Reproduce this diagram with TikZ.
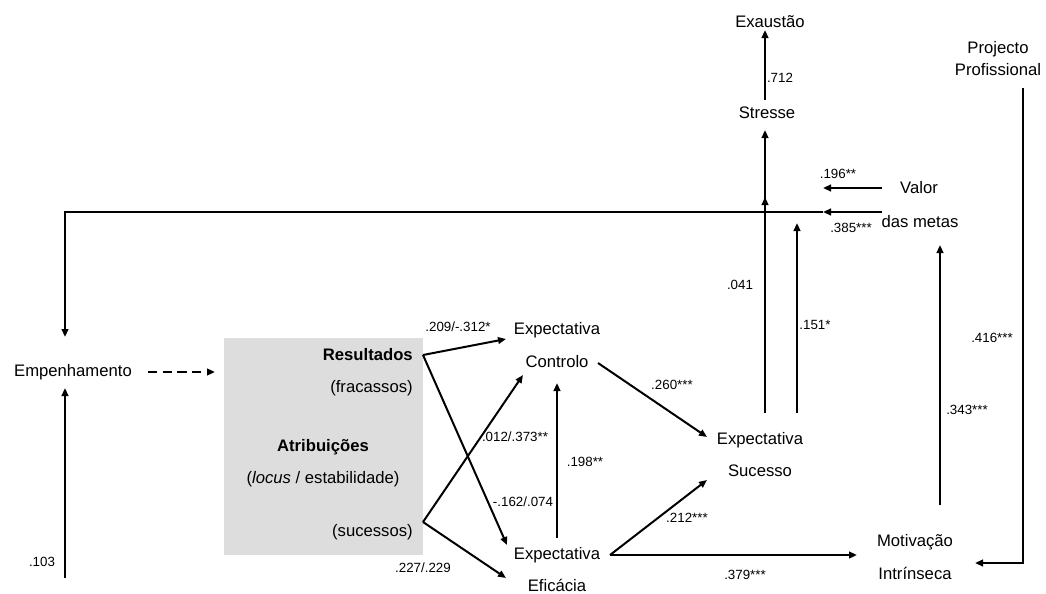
\documentclass[tikz,border=0pt]{standalone}
\usepackage{fontspec}
\setmainfont{Liberation Sans}
\usetikzlibrary{arrows.meta}
\definecolor{boxgray}{RGB}{221,221,221}
\begin{document}
\begin{tikzpicture}[x=0.75pt,y=-0.75pt,
  lbl/.style={font=\fontsize{12.5}{15}\selectfont, inner sep=0pt},
  num/.style={font=\fontsize{10}{12}\selectfont, inner sep=0pt},
  conn/.style={line width=1.5pt, -{Triangle[length=6pt,width=5pt]}},
  plainline/.style={line width=1.5pt},
  dashconn/.style={line width=1.5pt, dash pattern=on 7pt off 4pt, -{Triangle[length=6pt,width=5pt]}}]
\useasboundingbox (0,0) rectangle (1046,593);

% gray attribution box
\node[fill=boxgray, inner sep=0pt, minimum width=149.25pt, minimum height=162.75pt, anchor=north west] (box) at (224,338) {};

% text nodes
\node[lbl] (exa) at (770,22) {Exaustão};
\node[lbl] (str) at (767,113) {Stresse};
\node[lbl, align=center, font=\fontsize{12.5}{16.5}\selectfont] (proj) at (998,59) {Projecto\\Profissional};
\node[lbl] (val) at (919,188) {Valor};
\node[lbl] (met) at (920,222) {das metas};
\node[lbl] (emp) at (73,372) {Empenhamento};
\node[lbl, font=\fontsize{12.5}{15}\bfseries, anchor=east] (res) at (413,355) {Resultados};
\node[lbl, anchor=east] (fra) at (413,388) {(fracassos)};
\node[lbl, font=\fontsize{12.5}{15}\bfseries] (atr) at (323,447) {Atribuições};
\node[lbl] (loc) at (323,479) {(\textit{locus} / estabilidade)};
\node[lbl, anchor=east] (suc) at (413,532) {(sucessos)};
\node[lbl] (ecT) at (557,330) {Expectativa};
\node[lbl] (ecB) at (557,362) {Controlo};
\node[lbl] (eeT) at (557,555) {Expectativa};
\node[lbl] (eeB) at (557,585) {Eficácia};
\node[lbl] (esT) at (760,440) {Expectativa};
\node[lbl] (esB) at (760,471) {Sucesso};
\node[lbl] (miT) at (915,542) {Motivação};
\node[lbl] (miB) at (915,573) {Intrínseca};

% endpoints
\coordinate (exaIn) at (765,30);
\coordinate (strOut) at (765,100);
\coordinate (strIn) at (765,130);
\coordinate (sucOutA) at (765,413);
\coordinate (midTip) at (765,197);
\coordinate (sucOutB) at (797,413);
\coordinate (metInB) at (797,223);
\coordinate (valOut) at (882,188);
\coordinate (valTip) at (823,188);
\coordinate (metOut) at (882,212);
\coordinate (metTip) at (823,212);
\coordinate (empIn) at (65,337);
\coordinate (empLow) at (65,578);
\coordinate (empInB) at (65,388);
\coordinate (empOut) at (148,372);
\coordinate (boxIn) at (215,372);
\coordinate (resOut) at (423,355);
\coordinate (sucOut) at (423,522);
\coordinate (ecInA) at (506,339);
\coordinate (ecInB) at (523,375);
\coordinate (ecInC) at (557,383);
\coordinate (ecOut) at (598,363);
\coordinate (eeInA) at (507,545);
\coordinate (eeInB) at (506,578);
\coordinate (eeOutUp) at (557,538);
\coordinate (eeOut) at (610,555);
\coordinate (esInA) at (707,437);
\coordinate (esInB) at (707,480);
\coordinate (miIn) at (857,555);
\coordinate (miOut) at (940,505);
\coordinate (metInC) at (940,245);
\coordinate (projOut) at (1023,88);
\coordinate (miInR) at (975,563);

% connectors
\draw[conn] (strOut) -- (exaIn);
\draw[conn] (sucOutA) -- (strIn);
\draw[conn] (sucOutA) -- (midTip);
\draw[conn] (sucOutB) -- (metInB);
\draw[conn] (valOut) -- (valTip);
\draw[conn] (metOut) -- (metTip);
\draw[conn] (metTip) -| (empIn);
\draw[conn] (empLow) -- (empInB);
\draw[dashconn] (empOut) -- (boxIn);
\draw[conn] (resOut) -- (ecInA);
\draw[conn] (resOut) -- (eeInA);
\draw[conn] (sucOut) -- (ecInB);
\draw[conn] (sucOut) -- (eeInB);
\draw[conn] (eeOutUp) -- (ecInC);
\draw[conn] (ecOut) -- (esInA);
\draw[conn] (eeOut) -- (esInB);
\draw[conn] (eeOut) -- (miIn);
\draw[conn] (miOut) -- (metInC);
\draw[conn] (projOut) |- (miInR);

% coefficient labels
\node[num] (l712) at (780,78) {.712};
\node[num] (l196) at (838,174) {.196**};
\node[num] (l385) at (851,228) {.385***};
\node[num] (l041) at (740,285) {.041};
\node[num] (l151) at (815,325) {.151*};
\node[num] (l416) at (992,338) {.416***};
\node[num] (l343) at (967,410) {.343***};
\node[num] (l209) at (458,327) {.209/-.312*};
\node[num] (l012) at (515,437) {.012/.373**};
\node[num] (l198) at (585,462) {.198**};
\node[num] (l162) at (523,502) {-.162/.074};
\node[num] (l227) at (423,568) {.227/.229};
\node[num] (l260) at (672,385) {.260***};
\node[num] (l212) at (687,518) {.212***};
\node[num] (l379) at (745,575) {.379***};
\node[num] (l103) at (42,562) {.103};
\end{tikzpicture}
\end{document}
